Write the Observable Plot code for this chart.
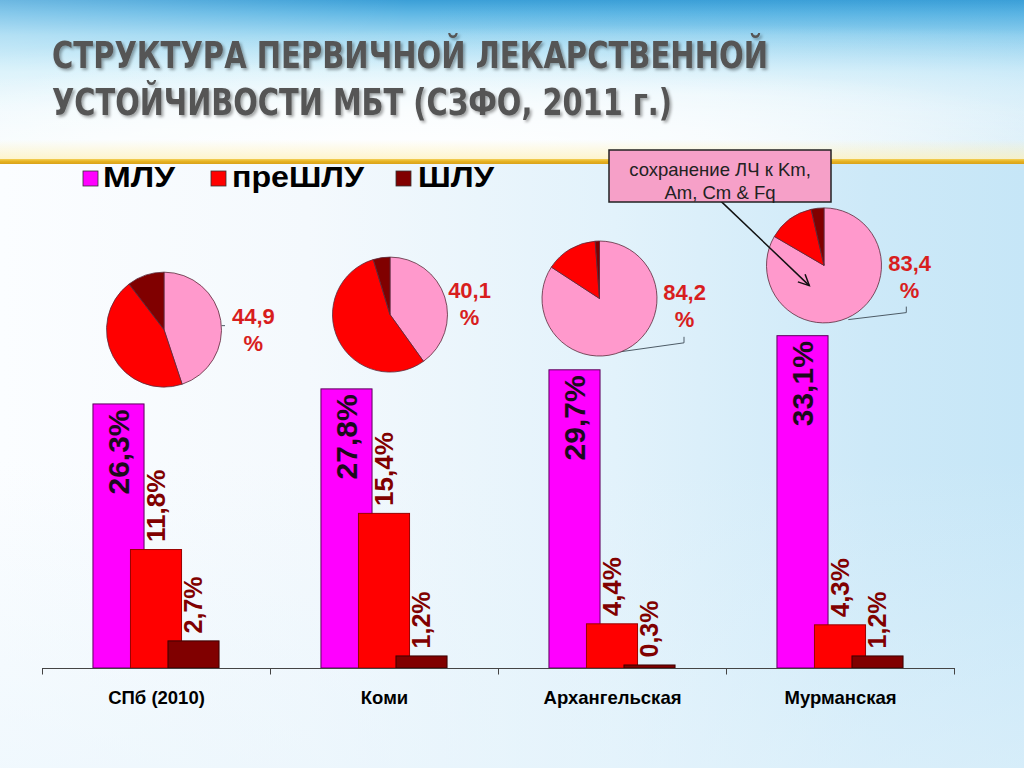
<!DOCTYPE html>
<html>
<head>
<meta charset="utf-8">
<script src="https://cdn.jsdelivr.net/npm/d3@7"></script>
<script src="https://cdn.jsdelivr.net/npm/@observablehq/plot@0.6"></script>
<style>
html, body { margin: 0; padding: 0; }
#slide {
  position: relative; width: 1024px; height: 768px; overflow: hidden;
  font-family: Arial, "Liberation Sans", sans-serif;
  background:
    linear-gradient(180deg, rgba(255,255,255,0) 60%, rgba(230,244,252,0.5) 100%),
    linear-gradient(90deg, #fbfdff 0%, #f4f9fd 30%, #e2f2fb 60%, #cde9f8 85%, #c6e6f7 100%);
}
#bgTop {
  position: absolute; left: 0; top: 0; width: 1024px; height: 160px;
  background:
    radial-gradient(ellipse 700px 90px at 420px 150px, rgba(255,255,255,0.95) 0%, rgba(255,255,255,0.7) 45%, rgba(255,255,255,0) 100%),
    radial-gradient(ellipse 900px 70px at 700px 95px, rgba(255,255,255,0.55) 0%, rgba(255,255,255,0) 100%),
    linear-gradient(90deg, rgba(255,255,255,0.25) 0%, rgba(255,255,255,0) 40%, rgba(60,160,220,0.15) 100%),
    linear-gradient(180deg, #3b9fd7 0%, #5db6e4 8%, #9ad6f1 22%, #cdeefa 45%, #e6f6fc 70%, #f3fafd 100%);
}
#glow {
  position: absolute; left: 0; top: 140px; width: 1024px; height: 20px;
  background: linear-gradient(180deg, rgba(255,245,200,0) 0%, rgba(255,240,180,0.7) 100%);
}
#gold {
  position: absolute; left: 0; top: 159px; width: 1024px; height: 5px;
  background: linear-gradient(180deg, #f3cf55 0%, #e6b221 50%, #d9a21a 100%);
}
#chart { position: absolute; left: 0; top: 0; }
#overlay { position: absolute; left: 0; top: 0; }
</style>
</head>
<body>
<div id="slide">
  <div id="bgTop"></div>
  <div id="glow"></div>
  <div id="gold"></div>
  <div id="chart"></div>
  <svg id="overlay" width="1024" height="768" xmlns="http://www.w3.org/2000/svg">
    <defs>
      <filter id="tshadow" x="-5%" y="-20%" width="110%" height="150%">
        <feDropShadow dx="2" dy="2" stdDeviation="1.5" flood-color="#000" flood-opacity="0.35"/>
      </filter>
    </defs>
    <g font-family="'Liberation Sans Narrow','Arial Narrow','DejaVu Sans Condensed',sans-serif" font-weight="bold" font-size="38" fill="#555555" filter="url(#tshadow)">
      <text x="52" y="68" textLength="716" lengthAdjust="spacingAndGlyphs">СТРУКТУРА ПЕРВИЧНОЙ ЛЕКАРСТВЕННОЙ</text>
      <text x="52" y="115" textLength="620" lengthAdjust="spacingAndGlyphs">УСТОЙЧИВОСТИ МБТ (СЗФО, 2011 г.)</text>
    </g>
    <g id="legend" font-family="Arial, 'Liberation Sans', sans-serif" font-weight="bold" font-size="30" fill="#000"></g>
    <g id="callout" font-family="Arial, 'Liberation Sans', sans-serif"></g>
  </svg>
</div>
<script>
// ---------- data ----------
const regions = ["СПб (2010)", "Коми", "Архангельская", "Мурманская"];
const seriesNames = ["МЛУ", "преШЛУ", "ШЛУ"];
const mlu = [26.3, 27.8, 29.7, 33.1];
const preXdr = [11.8, 15.4, 4.4, 4.3];
const xdr = [2.7, 1.2, 0.3, 1.2];
// pie shares: сохранение ЛЧ (pink), red, dark red
const pieKeep = [44.9, 40.1, 84.2, 83.4];
const pieRed = [44.7, 55.2, 14.6, 13.0];
const pieDark = [10.4, 4.7, 1.2, 3.6];
const calloutLines = ["сохранение ЛЧ к Km,", "Am, Cm & Fq"];

// ---------- styles / layout ----------
const barColors = ["#ff00ff", "#ff0000", "#800000"];
const barStrokes = ["#5c005c", "#9a0000", "#3a0000"];
const labelColors = ["#1c0a1c", "#800000", "#800000"];
const labelSizes = [30, 26, 25];
const labelAnchors = ["end", "start", "start"];
const labelDy = [5, -8, -8];
const pieColors = ["#ff99cc", "#ff0000", "#800000"];
const barOffset = [-0.1645, 0, 0.1645];
const barHalf = 0.112;
const pieDx = [8, 6, -12.5, -16];
const pieY = [33.7, 35.2, 36.8, 40.1];
const pieR = 57.5;
const pieLblDx = [0.425, 0.373, 0.316, 0.303];
const pieLblY = [33.8, 36.4, 36.25, 39.1];
const leaders = [
  [[57.5, -4], [61, -4]],
  null,
  [[20.5, 53.3], [84.5, 44.3], [84.5, 38.3]],
  [[24.3, 54.2], [82.3, 47.2], [82.3, 41.2]]
];
const arrowFrom = [-103.7, -64.8], arrowTo = [-14.7, 20.2]; // relative to last pie

const seriesValues = [mlu, preXdr, xdr];
const idx = regions.map((_, i) => i);
const fmt = v => d3.format(".1f")(v).replace(".", ",");

function pieMark(index, scales) {
  const g = d3.create("svg:g");
  const pie = d3.pie().sort(null).value(d => d);
  const arc = d3.arc().innerRadius(0).outerRadius(pieR);
  regions.forEach((r, i) => {
    const cx = scales.x(i + 0.5) + pieDx[i];
    const cy = scales.y(pieY[i]);
    const gi = g.append("g").attr("transform", `translate(${cx},${cy})`);
    if (leaders[i]) {
      gi.append("polyline")
        .attr("points", leaders[i].map(p => p.join(",")).join(" "))
        .attr("fill", "none").attr("stroke", "#4d5b66").attr("stroke-width", 1);
    }
    gi.selectAll("path.slice")
      .data(pie([pieKeep[i], pieRed[i], pieDark[i]]))
      .join("path")
      .attr("class", "slice")
      .attr("d", arc)
      .attr("fill", (d, k) => pieColors[k])
      .attr("stroke", "#5a2a3a")
      .attr("stroke-width", 0.8);
    if (i === regions.length - 1) {
      const [x1, y1] = arrowFrom, [x2, y2] = arrowTo;
      const a = Math.atan2(y2 - y1, x2 - x1), L = 12, w = 0.45;
      gi.append("line").attr("x1", x1).attr("y1", y1).attr("x2", x2).attr("y2", y2)
        .attr("stroke", "#111").attr("stroke-width", 1.5);
      gi.append("polyline")
        .attr("points", `${x2 - L * Math.cos(a - w)},${y2 - L * Math.sin(a - w)} ${x2},${y2} ${x2 - L * Math.cos(a + w)},${y2 - L * Math.sin(a + w)}`)
        .attr("fill", "none").attr("stroke", "#111").attr("stroke-width", 1.5);
    }
  });
  return g.node();
}

const barMarks = seriesValues.map((vals, j) =>
  Plot.rectY(idx, {
    x1: i => i + 0.5 + barOffset[j] - barHalf,
    x2: i => i + 0.5 + barOffset[j] + barHalf,
    y1: 0,
    y2: i => vals[i],
    fill: barColors[j],
    stroke: barStrokes[j],
    strokeWidth: 1
  })
);
const labelMarks = seriesValues.map((vals, j) =>
  Plot.text(idx, {
    x: i => i + 0.5 + barOffset[j],
    y: i => vals[i],
    text: i => fmt(vals[i]) + "%",
    rotate: -90,
    textAnchor: labelAnchors[j],
    lineAnchor: "middle",
    dy: labelDy[j],
    fontSize: labelSizes[j],
    fontWeight: "bold",
    fill: labelColors[j]
  })
);

const chart = Plot.plot({
  width: 1024,
  height: 768,
  marginLeft: 42, marginRight: 70, marginTop: 166, marginBottom: 100,
  x: {type: "linear", domain: [0, 4], range: [42, 954], axis: null},
  y: {type: "linear", domain: [0, 50], range: [668, 166], axis: null},
  style: {background: "transparent", fontFamily: "Arial, 'Liberation Sans', sans-serif", overflow: "visible"},
  marks: [
    ...barMarks,
    Plot.ruleY([0], {x1: 0, x2: 4, stroke: "#444", strokeWidth: 1}),
    Plot.ruleX([0, 1, 2, 3, 4], {y1: 0, y2: -0.65, stroke: "#444", strokeWidth: 1}),
    ...labelMarks,
    Plot.text(idx, {
      x: i => i + 0.5, y: 0, dy: 29.5,
      text: i => regions[i],
      fontSize: 18.5, fontWeight: "bold", fill: "#000"
    }),
    pieMark,
    Plot.text(idx, {
      x: i => i + 0.5 + pieLblDx[i],
      y: i => pieLblY[i],
      text: i => fmt(pieKeep[i]) + "\n%",
      lineHeight: 1.22,
      fontSize: 22, fontWeight: "bold", fill: "#d81e1e"
    })
  ]
});
document.getElementById("chart").appendChild(chart);

// ---------- legend ----------
const legendLayout = [
  {sx: 83, tx: 103, tl: 72},
  {sx: 211, tx: 232, tl: 132},
  {sx: 396, tx: 418, tl: 76}
];
const lg = d3.select("#legend");
seriesNames.forEach((name, j) => {
  const L = legendLayout[j];
  lg.append("rect").attr("x", L.sx).attr("y", 171).attr("width", 15).attr("height", 15)
    .attr("fill", barColors[j]).attr("stroke", "#333").attr("stroke-width", 0.8);
  lg.append("text").attr("x", L.tx).attr("y", 187).attr("textLength", L.tl)
    .attr("lengthAdjust", "spacingAndGlyphs").text(name);
});

// ---------- callout ----------
const co = d3.select("#callout");
co.append("rect").attr("x", 609).attr("y", 150).attr("width", 222).attr("height", 52)
  .attr("fill", "#f6a0c8").attr("stroke", "#222").attr("stroke-width", 1.5);
calloutLines.forEach((t, k) => {
  co.append("text").attr("x", 720).attr("y", 176 + k * 23).attr("text-anchor", "middle")
    .attr("font-size", 18.5).attr("fill", "#222").text(t);
});
</script>
</body>
</html>
